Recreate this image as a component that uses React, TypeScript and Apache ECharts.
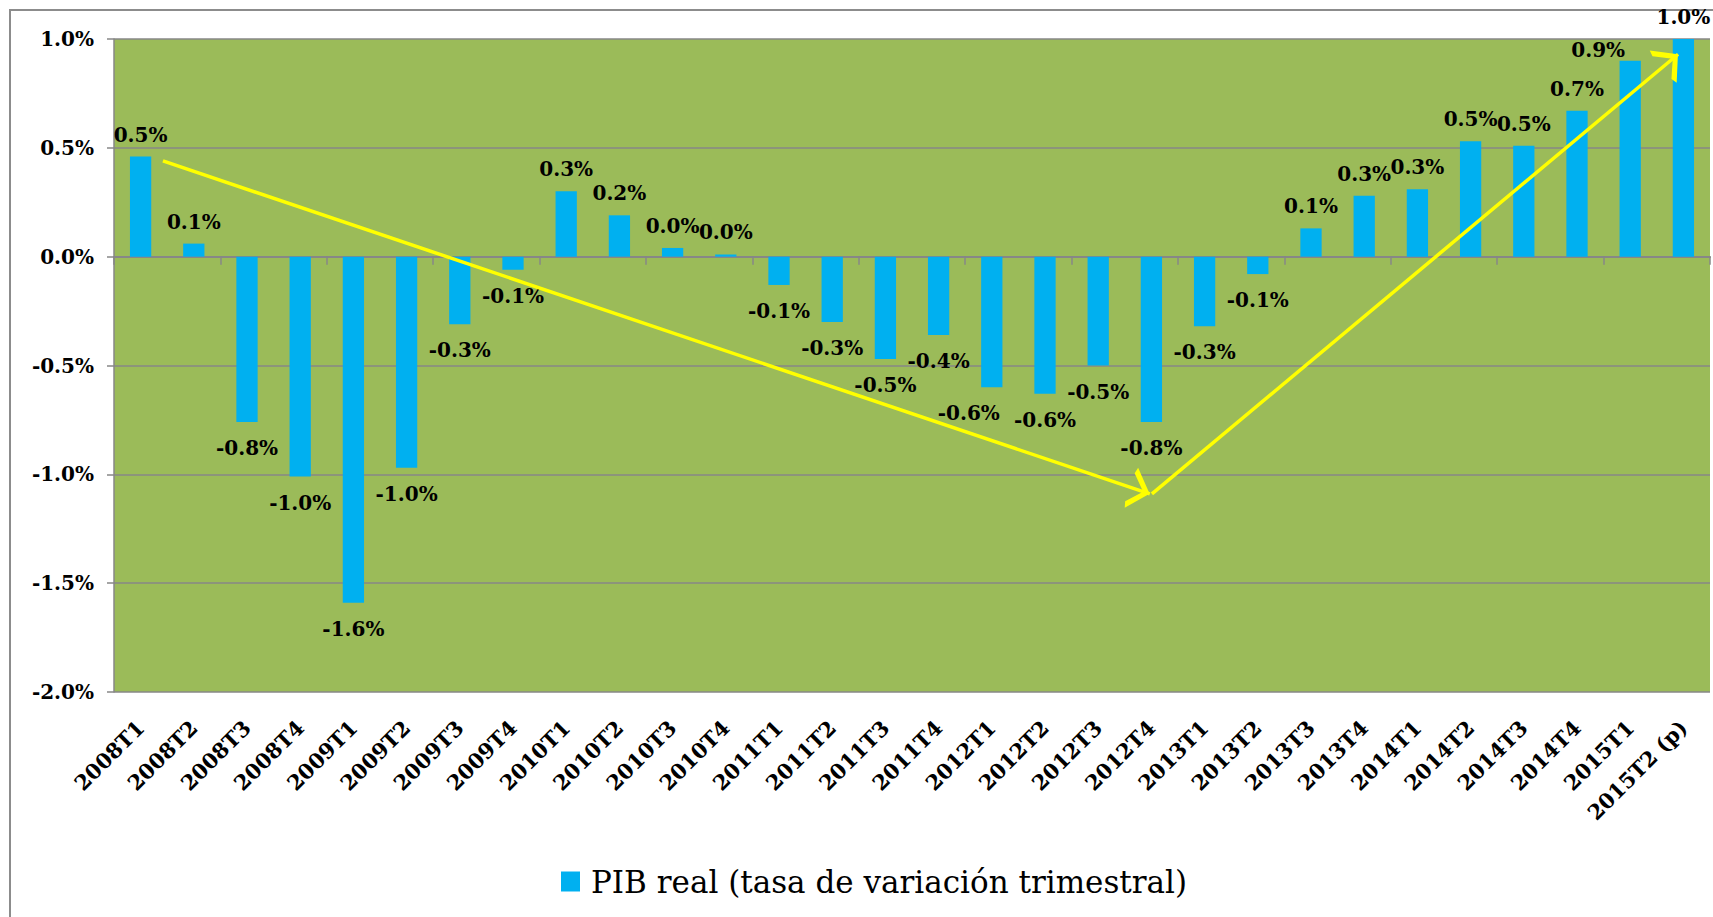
import React, { useEffect, useRef } from 'react';
import * as echarts from 'echarts';

const categories = [
  '2008T1', '2008T2', '2008T3', '2008T4',
  '2009T1', '2009T2', '2009T3', '2009T4',
  '2010T1', '2010T2', '2010T3', '2010T4',
  '2011T1', '2011T2', '2011T3', '2011T4',
  '2012T1', '2012T2', '2012T3', '2012T4',
  '2013T1', '2013T2', '2013T3', '2013T4',
  '2014T1', '2014T2', '2014T3', '2014T4',
  '2015T1', '2015T2 (p)',
];

const pibValues = [
  0.46, 0.06, -0.76, -1.01,
  -1.59, -0.97, -0.31, -0.06,
  0.30, 0.19, 0.04, 0.01,
  -0.13, -0.30, -0.47, -0.36,
  -0.60, -0.63, -0.50, -0.76,
  -0.32, -0.08, 0.13, 0.28,
  0.31, 0.53, 0.51, 0.67,
  0.90, 1.00,
];

const seriesName = 'PIB real (tasa de variación trimestral)';

const yMin = -2;
const yMax = 1;
const yInterval = 0.5;

// trend arrows, x in category units (0..30), y in %
const trendDown = [[0.92, 0.44], [19.47, -1.09]];
const trendUp = [[19.51, -1.09], [29.4, 0.93]];

// labels that the original chart moved aside to avoid collisions (px)
const labelNudges: Record<string, [number, number]> = {
  '2012T1': [-23, 0],
  '2015T1': [-32, 11],
};

const FONT = 'DejaVu Serif';
const GRID_GRAY = '#878787';

// open chevron, tip at the centre of the bounding box
const chevron = 'path://M9.5,0 M9.5,21 L19,40 L16.2,41.6 L9.5,27.8 L2.8,41.6 L0,40 Z';

export default function App() {
  const ref = useRef<HTMLDivElement>(null);

  useEffect(() => {
    if (!ref.current) return;
    const chart = echarts.init(ref.current, null, { renderer: 'svg' });

    const arrowSeries = (name: string, coords: number[][]) => ({
      name,
      type: 'lines',
      coordinateSystem: 'cartesian2d',
      xAxisIndex: 2,
      yAxisIndex: 0,
      z: 5,
      symbol: ['none', chevron],
      symbolSize: [19, 42],
      lineStyle: { color: '#FFFF00', width: 3.5, opacity: 1, curveness: 0 },
      data: [{ coords }],
    });

    const option = {
      animation: false,
      backgroundColor: '#ffffff',
      graphic: [
        {
          type: 'rect',
          shape: { x: 10, y: 10, width: 1800, height: 1000 },
          style: { fill: 'none', stroke: '#8c8c8c', lineWidth: 2 },
          silent: true,
          z: 0,
        },
      ],
      grid: {
        left: 114,
        right: 3,
        top: 39,
        bottom: 225,
        show: true,
        backgroundColor: '#9BBB59',
        borderWidth: 0,
      },
      legend: {
        data: [seriesName],
        left: 556,
        top: 861,
        icon: 'rect',
        itemWidth: 19,
        itemHeight: 20,
        textStyle: {
          fontFamily: FONT,
          fontSize: 31,
          color: '#000',
          padding: [0, 0, 0, 6],
        },
      },
      xAxis: [
        {
          type: 'category',
          data: categories,
          position: 'bottom',
          axisLine: { show: false, onZero: false },
          axisTick: { show: false },
          splitLine: { show: false },
          axisLabel: {
            interval: 0,
            rotate: 45,
            margin: 32,
            fontFamily: FONT,
            fontWeight: 'bold',
            fontSize: 21,
            color: '#000',
          },
        },
        {
          type: 'category',
          data: categories,
          position: 'bottom',
          axisLine: { show: true, onZero: true, lineStyle: { color: GRID_GRAY, width: 2 } },
          axisTick: { show: true, length: 8, lineStyle: { color: GRID_GRAY, width: 1.5 } },
          axisLabel: { show: false },
          splitLine: { show: false },
        },
        {
          type: 'value',
          min: 0,
          max: categories.length,
          show: false,
          position: 'top',
          axisLine: { onZero: false },
          splitLine: { show: false },
        },
      ],
      yAxis: {
        type: 'value',
        min: yMin,
        max: yMax,
        interval: yInterval,
        axisLine: { show: true, onZero: false, lineStyle: { color: GRID_GRAY, width: 1.5 } },
        axisTick: { show: true, length: 7, lineStyle: { color: GRID_GRAY, width: 1.5 } },
        splitLine: { show: true, lineStyle: { color: GRID_GRAY, width: 1.5 } },
        axisLabel: {
          margin: 20,
          fontFamily: FONT,
          fontWeight: 'bold',
          fontSize: 20,
          color: '#000',
          formatter: (v: number) => v.toFixed(1) + '%',
        },
      },
      series: [
        {
          name: seriesName,
          type: 'bar',
          xAxisIndex: 0,
          yAxisIndex: 0,
          barWidth: '40%',
          itemStyle: { color: '#00B0F0' },
          label: {
            show: true,
            fontFamily: FONT,
            fontWeight: 'bold',
            fontSize: 20,
            color: '#000',
            formatter: (p: any) => Number(p.value).toFixed(1) + '%',
          },
          data: pibValues.map((v, i) => ({
            value: v,
            label: {
              position: v >= 0 ? 'top' : 'bottom',
              distance: v >= 0 ? 12 : 16,
              offset: labelNudges[categories[i]] || [0, 0],
            },
          })),
        },
        arrowSeries('trendDown', trendDown),
        arrowSeries('trendUp', trendUp),
      ],
    };

    chart.setOption(option as any);
    return () => chart.dispose();
  }, []);

  return (
    <div
      ref={ref}
      style={{ position: 'fixed', left: 0, top: 0, width: 1713, height: 917 }}
    />
  );
}
